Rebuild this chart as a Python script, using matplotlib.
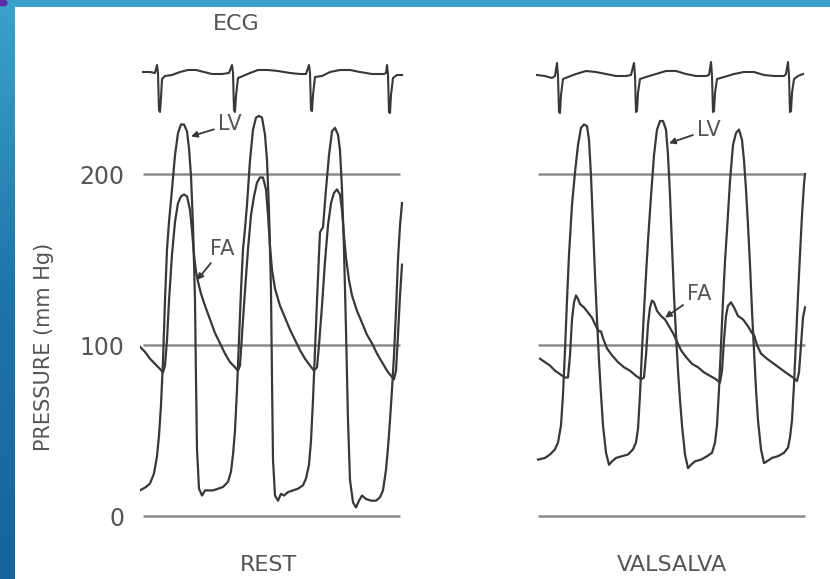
import numpy as np
import matplotlib
matplotlib.use("Agg")
import matplotlib.pyplot as plt
from matplotlib.colors import LinearSegmentedColormap

W, H = 830, 579

# ---- pressure traces (time in s, pressure in mmHg) ----
rest_lv_t = [0.00, 0.06, 0.10, 0.14, 0.17, 0.19, 0.21, 0.23, 0.25, 0.27, 0.29, 0.32, 0.35, 0.38,
             0.41, 0.44, 0.47, 0.49, 0.51, 0.53, 0.55, 0.56, 0.57, 0.59, 0.62, 0.65, 0.69, 0.73,
             0.78, 0.83, 0.88, 0.91, 0.93, 0.95, 0.97, 0.99, 1.01, 1.03, 1.05, 1.07, 1.10, 1.13,
             1.16, 1.19, 1.22, 1.25, 1.27, 1.29, 1.31, 1.32, 1.33, 1.35, 1.38, 1.41, 1.44, 1.48,
             1.53, 1.58, 1.63, 1.66, 1.69, 1.71, 1.73, 1.75, 1.77, 1.79, 1.80, 1.83, 1.86, 1.89,
             1.92, 1.95, 1.98, 2.00, 2.02, 2.04, 2.06, 2.08, 2.10, 2.13, 2.16, 2.19, 2.22, 2.26,
             2.31, 2.36, 2.40, 2.43, 2.46, 2.48, 2.50, 2.52, 2.54, 2.56, 2.58, 2.60, 2.62]
rest_lv_p = [15, 17, 19, 25, 35, 47, 65, 91, 126, 156, 172, 191, 211, 224,
             229, 229, 225, 215, 199, 170, 126, 80, 39, 16, 12, 15, 15, 15,
             16, 17, 20, 26, 36, 50, 74, 103, 132, 156, 168, 182, 208, 226,
             233, 234, 233, 223, 208, 179, 132, 80, 33, 12, 9, 13, 12, 14,
             15, 16, 18, 22, 30, 44, 68, 97, 126, 153, 166, 169, 191, 211,
             225, 227, 223, 214, 191, 156, 109, 56, 21, 8, 5, 9, 12, 10,
             9, 9, 11, 15, 27, 40, 56, 74, 94, 120, 150, 170, 183]

rest_fa_t = [0.00, 0.05, 0.10, 0.15, 0.20, 0.23, 0.25, 0.27, 0.29, 0.32, 0.35, 0.38, 0.41, 0.44,
             0.47, 0.50, 0.52, 0.54, 0.56, 0.58, 0.61, 0.65, 0.70, 0.75, 0.80, 0.85, 0.90, 0.95,
             0.98, 1.00, 1.02, 1.05, 1.08, 1.11, 1.14, 1.17, 1.20, 1.23, 1.26, 1.28, 1.30, 1.32,
             1.35, 1.40, 1.45, 1.50, 1.55, 1.60, 1.65, 1.70, 1.74, 1.77, 1.79, 1.82, 1.85, 1.88,
             1.91, 1.94, 1.97, 2.00, 2.02, 2.04, 2.06, 2.09, 2.12, 2.17, 2.22, 2.27, 2.32, 2.37,
             2.42, 2.47, 2.51, 2.54, 2.56, 2.58, 2.60, 2.62]
rest_fa_p = [99, 96, 92, 89, 86, 84, 88, 103, 126, 153, 172, 183, 187, 188,
             187, 179, 167, 153, 143, 137, 130, 123, 115, 107, 101, 95, 90, 87,
             85, 88, 106, 132, 156, 176, 187, 195, 198, 198, 191, 176, 158, 144,
             133, 123, 116, 109, 103, 97, 92, 88, 85, 87, 100, 123, 149, 170,
             183, 189, 191, 188, 179, 164, 151, 138, 129, 120, 113, 106, 101, 95,
             90, 85, 82, 80, 85, 106, 129, 147]

vals_lv_t = [0.03, 0.10, 0.15, 0.20, 0.23, 0.26, 0.28, 0.30, 0.32, 0.34, 0.37, 0.40, 0.43, 0.46,
             0.49, 0.52, 0.54, 0.56, 0.58, 0.60, 0.62, 0.64, 0.66, 0.68, 0.71, 0.74, 0.77, 0.81,
             0.87, 0.93, 0.98, 1.01, 1.03, 1.05, 1.07, 1.09, 1.11, 1.13, 1.16, 1.19, 1.22, 1.25,
             1.28, 1.31, 1.33, 1.35, 1.37, 1.39, 1.41, 1.43, 1.45, 1.47, 1.50, 1.53, 1.56, 1.60,
             1.66, 1.72, 1.77, 1.80, 1.82, 1.84, 1.86, 1.88, 1.90, 1.92, 1.95, 1.98, 2.01, 2.04,
             2.07, 2.09, 2.11, 2.13, 2.15, 2.17, 2.19, 2.21, 2.23, 2.26, 2.29, 2.32, 2.37, 2.43,
             2.49, 2.53, 2.55, 2.57, 2.59, 2.61, 2.63, 2.65, 2.67, 2.69, 2.70]
vals_lv_p = [33, 34, 36, 39, 43, 53, 71, 97, 126, 153, 182, 201, 217, 227,
             229, 228, 220, 199, 170, 141, 115, 91, 71, 53, 37, 30, 32, 34,
             35, 36, 39, 43, 51, 71, 97, 120, 141, 161, 187, 211, 226, 231,
             231, 226, 211, 188, 158, 129, 106, 85, 68, 53, 36, 28, 30, 32,
             33, 35, 37, 43, 53, 74, 100, 126, 149, 167, 196, 217, 224, 226,
             220, 208, 191, 170, 147, 120, 97, 74, 56, 39, 31, 32, 34, 35,
             37, 40, 46, 56, 77, 103, 129, 153, 176, 194, 200]

vals_fa_t = [0.05, 0.10, 0.15, 0.20, 0.25, 0.30, 0.33, 0.35, 0.37, 0.39, 0.41, 0.43, 0.45, 0.49,
             0.53, 0.57, 0.61, 0.64, 0.66, 0.68, 0.72, 0.77, 0.83, 0.89, 0.95, 1.01, 1.06, 1.09,
             1.11, 1.13, 1.15, 1.17, 1.19, 1.22, 1.26, 1.30, 1.34, 1.38, 1.42, 1.46, 1.51, 1.57,
             1.63, 1.69, 1.75, 1.81, 1.85, 1.87, 1.89, 1.91, 1.93, 1.96, 1.99, 2.03, 2.08, 2.13,
             2.17, 2.19, 2.22, 2.26, 2.32, 2.39, 2.46, 2.53, 2.58, 2.62, 2.64, 2.66, 2.68, 2.70]
vals_fa_p = [92, 90, 88, 85, 83, 81, 81, 94, 115, 125, 129, 127, 124, 122,
             119, 116, 111, 108, 108, 104, 98, 94, 90, 87, 85, 82, 80, 81,
             94, 112, 122, 126, 125, 120, 117, 115, 111, 107, 102, 97, 93, 89,
             87, 84, 82, 80, 78, 85, 103, 117, 123, 125, 122, 117, 115, 111,
             107, 106, 100, 95, 92, 89, 86, 83, 81, 79, 84, 100, 116, 122]

# ---- ECG (time in s, arbitrary mV) ----
rest_ecg_t = [0.03, 0.10, 0.15, 0.17, 0.18, 0.19, 0.20, 0.21, 0.22, 0.25, 0.32, 0.40, 0.48, 0.56,
              0.64, 0.72, 0.82, 0.89, 0.92, 0.93, 0.94, 0.95, 0.96, 0.98, 1.03, 1.10, 1.18, 1.28,
              1.38, 1.50, 1.60, 1.66, 1.69, 1.70, 1.71, 1.72, 1.73, 1.75, 1.82, 1.90, 2.00, 2.10,
              2.20, 2.32, 2.44, 2.46, 2.47, 2.48, 2.49, 2.50, 2.51, 2.53, 2.57, 2.62]
rest_ecg_v = [0.10, 0.10, 0.05, 0.45, 0.05, -1.80, -1.90, -1.20, -0.25, -0.10, -0.05, 0.10, 0.20, 0.20,
              0.10, 0.00, 0.00, 0.05, 0.45, 0.05, -1.80, -1.90, -1.10, -0.20, -0.10, 0.05, 0.20, 0.20,
              0.15, 0.05, 0.00, 0.00, 0.45, 0.05, -1.80, -1.85, -1.05, -0.15, -0.10, 0.10, 0.20, 0.20,
              0.10, 0.00, 0.00, 0.05, 0.45, 0.00, -1.90, -1.95, -1.05, -0.20, -0.05, -0.05]

vals_ecg_t = [0.02, 0.10, 0.17, 0.20, 0.22, 0.23, 0.24, 0.25, 0.26, 0.28, 0.33, 0.41, 0.51, 0.61,
              0.71, 0.81, 0.91, 0.96, 0.99, 1.00, 1.01, 1.02, 1.03, 1.05, 1.11, 1.21, 1.31, 1.41,
              1.51, 1.61, 1.71, 1.74, 1.76, 1.77, 1.78, 1.79, 1.80, 1.82, 1.89, 1.99, 2.09, 2.19,
              2.29, 2.39, 2.49, 2.51, 2.53, 2.54, 2.55, 2.56, 2.57, 2.59, 2.63, 2.68]
vals_ecg_v = [-0.05, -0.10, -0.20, -0.10, 0.55, -0.10, -1.90, -1.95, -1.05, -0.25, -0.15, 0.00, 0.15, 0.10,
              0.00, -0.10, -0.10, -0.05, 0.55, -0.10, -1.90, -1.85, -0.95, -0.25, -0.15, 0.00, 0.15, 0.15,
              0.00, -0.10, -0.10, -0.05, 0.60, -0.10, -1.90, -1.85, -0.95, -0.25, -0.15, 0.00, 0.10, 0.10,
              -0.05, -0.10, -0.10, 0.00, 0.60, -0.10, -1.90, -1.85, -0.95, -0.25, -0.10, 0.00]

grid_levels = [0, 100, 200]
rest_span = (0.03, 2.60)
vals_span = (0.03, 2.70)

ink = "#383838"
rule = "#8c8c8c"
label_col = "#555555"
txt = dict(color=label_col, family="DejaVu Sans")


def px_axes(fig, x0, y0, x1, y1):
    return fig.add_axes([x0 / W, 1 - y1 / H, (x1 - x0) / W, (y1 - y0) / H])


fig = plt.figure(figsize=(W / 100, H / 100), dpi=100)
fig.patch.set_facecolor("white")

# blue frame on left and top
frame_left = px_axes(fig, 0, 0, 14, H)
grad = np.linspace(0, 1, 256).reshape(-1, 1)
cm_frame = LinearSegmentedColormap.from_list("frame", ["#3ca2cb", "#1e75a8", "#16649a"])
frame_left.imshow(grad, aspect="auto", cmap=cm_frame, extent=[0, 1, 0, 1], origin="upper")
frame_left.axis("off")
frame_top = px_axes(fig, 0, 0, W, 7)
frame_top.set_facecolor("#3ba0c9")
frame_top.set_xticks([])
frame_top.set_yticks([])
for s in frame_top.spines.values():
    s.set_visible(False)
fig.patches.append(plt.Circle((3 / W, 1 - 3 / H), 4 / W, color="#5a2aa8",
                              transform=fig.transFigure, figure=fig))


def pressure_panel(x0, x1, lv_t, lv_p, fa_t, fa_p, span, ticks):
    ax = px_axes(fig, x0, 100, x1, 540)
    ax.set_xlim(0, 2.80)
    ax.set_ylim(-14.0, 243.3)
    ax.patch.set_alpha(0)
    for s in ax.spines.values():
        s.set_visible(False)
    ax.set_xticks([])
    if ticks:
        ax.set_yticks(grid_levels)
        ax.set_yticklabels([str(v) for v in grid_levels], fontsize=17, **txt)
        ax.tick_params(axis="y", length=0, pad=11)
    else:
        ax.set_yticks([])
    ax.hlines(grid_levels, span[0], span[1], color=rule, lw=1.8, zorder=1)
    ax.plot(lv_t, lv_p, color=ink, lw=1.6, zorder=3, solid_joinstyle="round")
    ax.plot(fa_t, fa_p, color=ink, lw=1.6, zorder=3, solid_joinstyle="round")
    return ax


def ecg_panel(x0, x1, t, v):
    ax = px_axes(fig, x0, 55, x1, 125)
    ax.set_xlim(0, 2.80)
    ax.set_ylim(-2.55, 0.95)
    ax.axis("off")
    ax.plot(t, v, color=ink, lw=1.5, solid_joinstyle="round")
    return ax


arrow = dict(arrowstyle="-|>", color=ink, lw=1.3, mutation_scale=9, shrinkA=1, shrinkB=0)

ax_rest = pressure_panel(140, 420, rest_lv_t, rest_lv_p, rest_fa_t, rest_fa_p, rest_span, True)
ax_vals = pressure_panel(535, 815, vals_lv_t, vals_lv_p, vals_fa_t, vals_fa_p, vals_span, False)
ecg_panel(140, 420, rest_ecg_t, rest_ecg_v)
ecg_panel(535, 815, vals_ecg_t, vals_ecg_v)

ax_rest.annotate("LV", xy=(0.51, 222), xytext=(0.78, 229), ha="left", va="center",
                 fontsize=15, arrowprops=arrow, **txt)
ax_rest.annotate("FA", xy=(0.57, 138), xytext=(0.70, 156), ha="left", va="center",
                 fontsize=15, arrowprops=arrow, **txt)
ax_vals.annotate("LV", xy=(1.34, 218), xytext=(1.62, 226), ha="left", va="center",
                 fontsize=15, arrowprops=arrow, **txt)
ax_vals.annotate("FA", xy=(1.30, 116), xytext=(1.52, 130), ha="left", va="center",
                 fontsize=15, arrowprops=arrow, **txt)

fig.text(236 / W, 1 - 24 / H, "ECG", ha="center", va="center", fontsize=16, **txt)
fig.text(268 / W, 1 - 565 / H, "REST", ha="center", va="center", fontsize=16, **txt)
fig.text(672 / W, 1 - 565 / H, "VALSALVA", ha="center", va="center", fontsize=16, **txt)
fig.text(44 / W, 1 - 347 / H, "PRESSURE (mm Hg)", ha="center", va="center", rotation=90,
         fontsize=15, **txt)

fig.savefig("out.png", dpi=100, facecolor="white")
